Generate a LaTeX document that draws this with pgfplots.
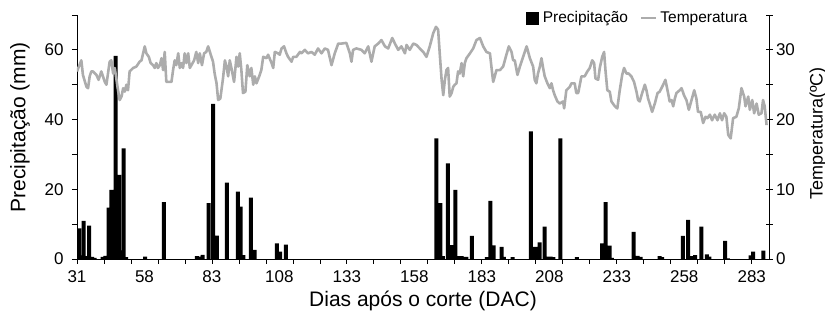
\documentclass[border=0pt]{standalone}
\usepackage{fontspec}
\setmainfont{Liberation Sans}
\usepackage{pgfplots}
\usepackage{pgfplotstable}
\pgfplotsset{compat=1.18}
\usetikzlibrary{calc}
\definecolor{tempgray}{RGB}{172,172,172}

\pgfplotstableread{
day prec
31.8 8.8
32.7 1.0
33.5 10.9
34.5 0.8
35.5 9.6
36.6 0.6
37.5 0.3
40.5 0.6
41.5 0.9
42.7 14.7
43.7 19.8
45.3 58.3
46.6 24.1
47.5 2.5
48.3 31.7
49.2 0.5
56.2 0.7
63.2 16.3
75.4 0.8
76.6 0.7
77.5 1.2
79.8 16.0
81.4 44.5
82.8 6.7
86.5 21.9
90.6 19.3
91.6 15.0
92.6 1.1
95.4 17.6
96.8 2.6
105.1 4.5
106.3 2.1
108.4 4.1
164.2 34.6
165.6 16.0
166.6 0.8
168.4 27.4
169.6 4.0
170.2 2.6
171.2 19.8
172.5 0.8
173.5 0.8
174.5 0.6
175.3 0.6
177.3 6.6
182.9 0.5
184.2 16.7
185.4 3.9
188.3 3.5
189.2 0.6
192.4 0.5
199.2 36.6
200.4 3.5
201.1 3.5
202.4 4.8
204.3 9.3
205.5 0.7
206.5 0.7
207.5 0.5
210.1 34.6
216.2 0.5
225.6 4.5
226.9 16.3
228.3 3.8
229.2 0.3
237.2 7.8
238.7 0.9
239.8 0.6
246.9 0.8
247.8 0.5
255.5 6.6
257.4 11.2
258.6 0.8
260.0 1.1
262.3 9.3
264.4 1.3
265.3 0.7
271.1 5.2
272.2 0.2
280.6 1.0
281.5 2.1
285.3 2.4
}\prectable

\pgfplotstableread{
day temp
31.0 26.9
32.6 28.5
33.2 26.4
34.5 24.7
35.1 24.5
35.7 26.2
36.3 26.9
36.9 26.9
38.2 26.4
39.0 25.7
40.0 26.9
41.3 25.4
41.9 25.0
43.1 28.3
43.7 28.5
44.4 26.6
45.0 27.4
46.0 24.7
46.8 22.8
47.5 23.3
48.1 24.5
48.7 24.0
49.3 25.0
49.9 24.2
50.5 26.9
51.8 27.4
53.0 27.6
54.2 28.3
54.9 28.5
55.5 29.5
56.1 30.5
56.7 29.5
57.6 29.0
58.3 28.1
59.2 27.8
59.8 27.4
60.4 28.1
61.0 27.4
61.7 27.8
62.3 28.8
62.9 27.1
63.5 29.7
64.1 25.4
65.4 25.4
66.0 25.4
66.6 27.1
67.2 28.5
67.8 27.8
68.5 29.5
69.1 27.4
69.7 28.1
70.3 27.4
70.9 29.5
71.5 28.1
72.2 29.5
72.8 27.4
73.4 27.8
74.4 28.5
75.2 29.7
75.9 28.1
76.5 29.5
77.3 27.8
78.1 29.5
78.9 29.7
79.6 30.5
80.8 29.0
81.4 28.3
82.0 26.6
82.7 25.2
83.3 22.8
84.1 23.0
85.1 25.9
85.8 28.5
86.4 27.6
87.0 26.2
87.6 28.5
88.2 27.4
89.2 25.4
90.1 29.0
90.7 27.6
91.3 29.5
91.9 27.1
92.5 23.8
93.4 24.0
94.1 27.8
95.0 26.2
95.6 27.4
96.3 25.0
96.9 26.2
97.5 25.2
98.7 26.4
99.3 27.1
100.0 29.0
101.2 28.8
101.8 29.3
103.1 28.1
103.7 27.4
104.3 29.7
105.5 29.5
106.1 29.3
106.8 30.2
107.7 30.5
108.6 29.5
109.2 29.0
110.5 28.3
111.1 29.0
112.3 29.0
113.6 29.7
114.2 29.5
115.4 30.0
116.6 29.5
117.9 29.7
119.1 29.3
120.3 30.2
121.6 29.5
122.8 30.2
124.0 30.0
125.3 27.8
126.5 29.5
127.8 30.9
129.0 30.9
130.8 31.0
132.1 29.5
132.7 28.3
133.3 30.0
134.5 30.2
136.4 30.0
137.6 29.5
138.9 30.5
140.1 28.3
141.3 30.5
142.6 30.9
143.8 31.4
145.1 30.5
146.3 30.2
147.8 31.7
148.8 30.9
150.0 30.0
151.2 30.5
152.5 29.5
153.1 30.7
154.3 30.0
155.6 30.9
156.8 30.7
158.0 30.2
159.3 29.7
160.5 29.0
161.7 30.5
163.0 32.4
164.0 33.3
164.8 32.9
165.4 29.5
166.1 25.7
166.7 23.5
167.3 25.7
167.9 27.1
168.5 27.4
169.1 23.3
169.8 23.8
170.4 24.7
171.0 25.0
171.6 25.2
172.2 26.9
172.8 26.6
173.5 28.1
174.1 26.2
174.7 28.1
175.3 28.8
176.6 29.5
177.8 30.2
179.0 31.4
180.3 31.7
181.5 30.5
182.7 29.7
184.0 29.5
184.6 27.4
185.2 25.4
185.8 26.2
186.4 27.1
187.7 27.1
188.9 27.6
190.1 29.3
191.0 30.5
192.0 29.7
192.6 28.5
193.2 28.5
194.2 26.4
195.1 27.6
196.3 29.0
197.6 30.5
198.8 28.8
200.0 27.6
200.6 25.7
201.2 25.2
201.8 26.6
202.5 27.6
203.1 28.8
203.7 27.4
204.3 26.2
205.3 25.2
206.2 24.5
206.8 25.2
207.4 24.2
208.0 23.5
209.0 22.6
209.9 22.3
211.1 22.6
211.5 21.6
212.3 24.2
213.6 24.7
214.2 25.2
215.4 25.2
216.0 23.8
216.7 23.8
217.3 25.0
217.9 26.2
219.1 26.2
220.1 26.9
221.0 27.4
221.9 28.5
222.6 28.1
223.1 25.9
224.1 25.7
224.7 27.4
225.6 29.0
226.3 29.7
226.8 27.1
227.5 24.2
228.4 24.0
229.0 22.6
230.3 21.9
231.2 21.6
232.1 24.2
233.0 26.4
233.7 27.4
234.6 26.6
235.4 26.6
236.4 26.2
237.4 25.4
238.3 24.0
238.9 22.8
239.5 22.6
240.4 23.8
241.4 25.0
242.0 24.2
242.6 23.0
243.2 22.3
244.1 21.1
245.1 22.3
246.1 23.8
246.9 24.0
248.2 25.0
249.0 25.7
249.8 24.2
250.6 22.6
251.3 22.8
251.9 21.9
252.5 23.0
253.1 23.8
254.3 24.2
255.0 24.5
255.9 23.5
256.8 22.8
257.7 21.4
258.7 22.8
259.7 24.2
260.5 23.0
261.1 21.1
262.1 21.1
263.0 19.5
263.9 20.4
264.6 20.2
265.5 20.7
266.3 19.9
267.3 20.7
268.3 19.9
269.2 20.9
270.0 19.9
270.8 20.9
271.6 20.4
272.3 17.8
273.2 17.3
274.1 20.2
275.3 20.4
276.2 21.6
277.2 24.5
278.2 23.3
278.7 21.9
279.7 23.3
280.3 21.4
281.2 22.8
281.9 20.9
282.8 22.3
283.6 20.7
284.6 20.9
285.2 22.8
285.8 21.9
286.5 19.2
}\temptable

\begin{document}
\begin{tikzpicture}
\begin{axis}[
  name=prec,
  scale only axis, width=692pt, height=244pt,
  xmin=31, xmax=287.4, ymin=0, ymax=70,
  axis x line*=bottom, axis y line*=left,
  axis line style={black, line width=0.8pt, -},
  tick align=outside, major tick length=5pt,
  tick style={black, line width=0.8pt},
  xtick={31,41,...,281}, xticklabels={},
  extra x ticks={31,56,81,106,131,156,181,206,231,256,281},
  extra x tick labels={31,58,83,108,133,158,183,208,233,258,283},
  extra x tick style={tick style={draw=none}},
  ytick={0,10,...,70}, yticklabels={0,,20,,40,,60,},
  /pgf/number format/assume math mode=true,
  ticklabel style={font=\fontsize{17}{20}\selectfont},
  yticklabel style={xshift=-5pt},
  xticklabel style={yshift=-3pt},
  xlabel={Dias após o corte (DAC)},
  xlabel style={font=\fontsize{21}{24}\selectfont, at={(rel axis cs:0.5,-0.172)}, anchor=center},
  ylabel={Precipitação (mm)},
  ylabel style={font=\fontsize{21}{24}\selectfont, at={(rel axis cs:-0.0824,0.539)}, anchor=center},
  clip=true,
]
\addplot[ybar, bar width=4pt, fill=black, draw=none] table[x=day, y=prec] {\prectable};
\end{axis}
\begin{axis}[
  scale only axis, width=692pt, height=244pt,
  xmin=31, xmax=287.4, ymin=0, ymax=35,
  axis x line=none, axis y line*=right,
  axis line style={black, line width=0.8pt, -},
  tick align=center, major tick length=7pt,
  tick style={black, line width=0.8pt},
  ytick={0,5,...,35}, yticklabels={0,,10,,20,,30,},
  /pgf/number format/assume math mode=true,
  ticklabel style={font=\fontsize{17}{20}\selectfont},
  ylabel={Temperatura(ºC)},
  ylabel style={font=\fontsize{18}{21}\selectfont, at={(rel axis cs:1.0708,0.514)}, anchor=center},
  legend columns=2,
  legend style={at={(rel axis cs:0.972,0.988)}, anchor=east, draw=none, fill=none,
    font=\fontsize{15.5}{18}\selectfont, inner sep=0pt,
    /tikz/every even column/.append style={column sep=10pt}},
]
\addlegendimage{legend image code/.code={\fill[black] (0pt,-6pt) rectangle (12pt,6pt); \path[draw=none, fill=none] (0pt,0pt) rectangle (15pt,0pt);}}
\addlegendentry{Precipitação}
\addplot[tempgray, line width=2.6pt, line join=round, legend image code/.code={\draw[tempgray, line width=2.6pt] (0pt,0pt) -- (15pt,0pt); \path[draw=none, fill=none] (0pt,0pt) rectangle (17pt,0pt);}] table[x=day, y=temp] {\temptable};
\addlegendentry{Temperatura}
\end{axis}
\pgfresetboundingbox
\useasboundingbox ($(prec.south west)+(-77pt,-53pt)$) rectangle ($(prec.north east)+(56pt,15pt)$);
\end{tikzpicture}
\end{document}
